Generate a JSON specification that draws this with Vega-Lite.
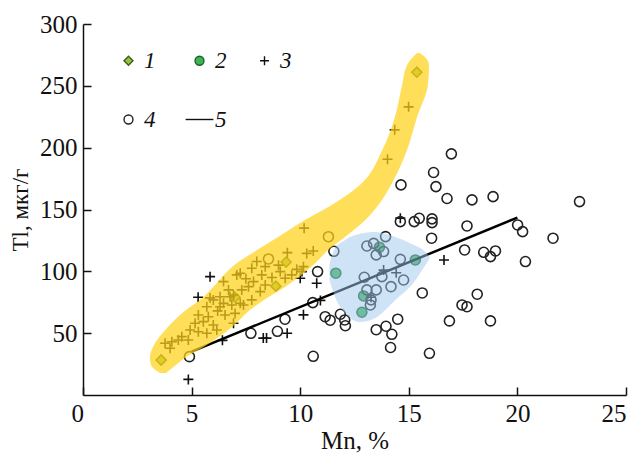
{
  "$schema": "https://vega.github.io/schema/vega-lite/v6.json",
  "width": 543,
  "height": 371,
  "autosize": {"type": "none"},
  "padding": {"left": 83, "top": 24, "right": 12, "bottom": 58},
  "background": "white",
  "config": {
    "view": {"stroke": null},
    "font": "Liberation Serif",
    "axis": {
      "domainColor": "#111",
      "domainWidth": 1.5,
      "tickColor": "#111",
      "tickWidth": 1.5,
      "tickSize": -8,
      "grid": false,
      "labelFont": "Liberation Serif",
      "labelFontSize": 25,
      "labelColor": "#111",
      "titleFont": "Liberation Serif",
      "titleFontSize": 25,
      "titleFontWeight": "normal",
      "titleColor": "#111"
    }
  },
  "datasets": {
    "pts": [
      {"Mn": 3.6, "Tl": 28.3, "s": "1"},
      {"Mn": 7.0, "Tl": 79, "s": "1"},
      {"Mn": 8.88, "Tl": 88, "s": "1"},
      {"Mn": 9.35, "Tl": 107.5, "s": "1"},
      {"Mn": 15.37, "Tl": 261, "s": "1"},

      {"Mn": 11.64, "Tl": 98.5, "s": "2"},
      {"Mn": 12.84, "Tl": 66.9, "s": "2"},
      {"Mn": 12.92, "Tl": 80.1, "s": "2"},
      {"Mn": 13.65, "Tl": 119.5, "s": "2"},
      {"Mn": 15.3, "Tl": 109.2, "s": "2"},

      {"Mn": 4.85, "Tl": 12.6, "s": "3"},
      {"Mn": 5.3, "Tl": 79, "s": "3"},
      {"Mn": 5.85, "Tl": 95.7, "s": "3"},
      {"Mn": 6.42, "Tl": 44.2, "s": "3"},
      {"Mn": 8.3, "Tl": 46, "s": "3"},
      {"Mn": 8.45, "Tl": 46, "s": "3"},
      {"Mn": 9.4, "Tl": 49.9, "s": "3"},
      {"Mn": 10.15, "Tl": 64.8, "s": "3"},
      {"Mn": 10.76, "Tl": 90.4, "s": "3"},
      {"Mn": 10.93, "Tl": 76.5, "s": "3"},
      {"Mn": 13.84, "Tl": 101, "s": "3"},
      {"Mn": 14.42, "Tl": 98.9, "s": "3"},
      {"Mn": 13.26, "Tl": 79, "s": "3"},
      {"Mn": 14.61, "Tl": 143, "s": "3"},
      {"Mn": 16.62, "Tl": 109.2, "s": "3"},
      {"Mn": 14.02, "Tl": 190.6, "s": "3"},
      {"Mn": 14.35, "Tl": 214.4, "s": "3"},
      {"Mn": 14.99, "Tl": 233, "s": "3"},
      {"Mn": 10.18, "Tl": 134.9, "s": "3"},
      {"Mn": 10.6, "Tl": 116.5, "s": "3"},
      {"Mn": 10.3, "Tl": 114.5, "s": "3"},
      {"Mn": 10.15, "Tl": 103.8, "s": "3"},
      {"Mn": 10.08, "Tl": 99.8, "s": "3"},
      {"Mn": 9.41, "Tl": 115.1, "s": "3"},
      {"Mn": 8.0, "Tl": 107.9, "s": "3"},
      {"Mn": 7.77, "Tl": 102.5, "s": "3"},
      {"Mn": 8.39, "Tl": 103.8, "s": "3"},
      {"Mn": 9.08, "Tl": 99.8, "s": "3"},
      {"Mn": 9.84, "Tl": 101.6, "s": "3"},
      {"Mn": 10.0, "Tl": 94.4, "s": "3"},
      {"Mn": 9.61, "Tl": 97.1, "s": "3"},
      {"Mn": 8.23, "Tl": 97.1, "s": "3"},
      {"Mn": 7.24, "Tl": 98.4, "s": "3"},
      {"Mn": 7.08, "Tl": 97.1, "s": "3"},
      {"Mn": 7.85, "Tl": 91.7, "s": "3"},
      {"Mn": 7.62, "Tl": 87.6, "s": "3"},
      {"Mn": 8.39, "Tl": 89, "s": "3"},
      {"Mn": 9.31, "Tl": 94.4, "s": "3"},
      {"Mn": 6.47, "Tl": 91.7, "s": "3"},
      {"Mn": 6.7, "Tl": 85, "s": "3"},
      {"Mn": 7.31, "Tl": 85, "s": "3"},
      {"Mn": 8.16, "Tl": 83.6, "s": "3"},
      {"Mn": 6.93, "Tl": 80.9, "s": "3"},
      {"Mn": 5.85, "Tl": 78.5, "s": "3"},
      {"Mn": 6.0, "Tl": 76.9, "s": "3"},
      {"Mn": 6.47, "Tl": 74.1, "s": "3"},
      {"Mn": 6.85, "Tl": 72.8, "s": "3"},
      {"Mn": 7.77, "Tl": 76.9, "s": "3"},
      {"Mn": 6.31, "Tl": 79.5, "s": "3"},
      {"Mn": 6.77, "Tl": 79.5, "s": "3"},
      {"Mn": 7.24, "Tl": 74.1, "s": "3"},
      {"Mn": 5.7, "Tl": 71.4, "s": "3"},
      {"Mn": 6.31, "Tl": 71.4, "s": "3"},
      {"Mn": 7.39, "Tl": 72.8, "s": "3"},
      {"Mn": 5.31, "Tl": 64.7, "s": "3"},
      {"Mn": 5.77, "Tl": 63.3, "s": "3"},
      {"Mn": 6.54, "Tl": 64.7, "s": "3"},
      {"Mn": 5.16, "Tl": 58, "s": "3"},
      {"Mn": 5.54, "Tl": 59.3, "s": "3"},
      {"Mn": 6.0, "Tl": 56.6, "s": "3"},
      {"Mn": 6.93, "Tl": 58, "s": "3"},
      {"Mn": 4.93, "Tl": 52.6, "s": "3"},
      {"Mn": 5.31, "Tl": 51.2, "s": "3"},
      {"Mn": 5.7, "Tl": 49.9, "s": "3"},
      {"Mn": 6.16, "Tl": 52.6, "s": "3"},
      {"Mn": 4.55, "Tl": 47.2, "s": "3"},
      {"Mn": 4.85, "Tl": 44.5, "s": "3"},
      {"Mn": 4.39, "Tl": 44.5, "s": "3"},
      {"Mn": 4.09, "Tl": 43.1, "s": "3"},
      {"Mn": 3.78, "Tl": 41.8, "s": "3"},
      {"Mn": 4.01, "Tl": 37.8, "s": "3"},
      {"Mn": 8.7, "Tl": 95, "s": "3"},
      {"Mn": 9.0, "Tl": 105, "s": "3"},
      {"Mn": 7.5, "Tl": 94, "s": "3"},
      {"Mn": 7.0, "Tl": 66, "s": "3"},
      {"Mn": 6.2, "Tl": 68, "s": "3"},

      {"Mn": 8.54, "Tl": 110, "s": "4"},
      {"Mn": 11.3, "Tl": 128, "s": "4"},
      {"Mn": 4.9, "Tl": 31, "s": "4"},
      {"Mn": 7.73, "Tl": 49.9, "s": "4"},
      {"Mn": 8.95, "Tl": 51.5, "s": "4"},
      {"Mn": 9.3, "Tl": 61.3, "s": "4"},
      {"Mn": 10.58, "Tl": 74.7, "s": "4"},
      {"Mn": 10.6, "Tl": 31.3, "s": "4"},
      {"Mn": 10.8, "Tl": 99.8, "s": "4"},
      {"Mn": 11.55, "Tl": 116.2, "s": "4"},
      {"Mn": 11.15, "Tl": 63.3, "s": "4"},
      {"Mn": 11.38, "Tl": 60.5, "s": "4"},
      {"Mn": 11.85, "Tl": 65.3, "s": "4"},
      {"Mn": 12.05, "Tl": 60.7, "s": "4"},
      {"Mn": 12.08, "Tl": 56, "s": "4"},
      {"Mn": 13.5, "Tl": 52.8, "s": "4"},
      {"Mn": 13.95, "Tl": 55.6, "s": "4"},
      {"Mn": 14.22, "Tl": 49.1, "s": "4"},
      {"Mn": 14.49, "Tl": 61.3, "s": "4"},
      {"Mn": 14.16, "Tl": 38.4, "s": "4"},
      {"Mn": 15.95, "Tl": 33.7, "s": "4"},
      {"Mn": 15.62, "Tl": 82.5, "s": "4"},
      {"Mn": 18.15, "Tl": 81.5, "s": "4"},
      {"Mn": 17.45, "Tl": 72.8, "s": "4"},
      {"Mn": 17.68, "Tl": 71.4, "s": "4"},
      {"Mn": 16.87, "Tl": 59.9, "s": "4"},
      {"Mn": 18.76, "Tl": 59.9, "s": "4"},
      {"Mn": 16.96, "Tl": 195, "s": "4"},
      {"Mn": 16.14, "Tl": 179.9, "s": "4"},
      {"Mn": 16.25, "Tl": 168.5, "s": "4"},
      {"Mn": 14.64, "Tl": 169.9, "s": "4"},
      {"Mn": 16.76, "Tl": 158.9, "s": "4"},
      {"Mn": 17.91, "Tl": 157.8, "s": "4"},
      {"Mn": 18.88, "Tl": 160.4, "s": "4"},
      {"Mn": 22.86, "Tl": 156.4, "s": "4"},
      {"Mn": 14.61, "Tl": 140.2, "s": "4"},
      {"Mn": 15.25, "Tl": 140.2, "s": "4"},
      {"Mn": 15.48, "Tl": 142.9, "s": "4"},
      {"Mn": 16.07, "Tl": 142.4, "s": "4"},
      {"Mn": 16.07, "Tl": 139.4, "s": "4"},
      {"Mn": 17.68, "Tl": 136.7, "s": "4"},
      {"Mn": 20.01, "Tl": 137.5, "s": "4"},
      {"Mn": 20.24, "Tl": 132.1, "s": "4"},
      {"Mn": 21.64, "Tl": 126.8, "s": "4"},
      {"Mn": 16.05, "Tl": 126.8, "s": "4"},
      {"Mn": 13.93, "Tl": 128.1, "s": "4"},
      {"Mn": 17.57, "Tl": 117.3, "s": "4"},
      {"Mn": 18.45, "Tl": 115.4, "s": "4"},
      {"Mn": 18.99, "Tl": 116.5, "s": "4"},
      {"Mn": 18.76, "Tl": 111.9, "s": "4"},
      {"Mn": 20.37, "Tl": 107.9, "s": "4"},
      {"Mn": 13.07, "Tl": 120.5, "s": "4"},
      {"Mn": 13.38, "Tl": 122.6, "s": "4"},
      {"Mn": 13.5, "Tl": 113.3, "s": "4"},
      {"Mn": 13.84, "Tl": 116, "s": "4"},
      {"Mn": 14.61, "Tl": 109.7, "s": "4"},
      {"Mn": 12.95, "Tl": 95.2, "s": "4"},
      {"Mn": 13.76, "Tl": 95.7, "s": "4"},
      {"Mn": 14.76, "Tl": 93, "s": "4"},
      {"Mn": 14.18, "Tl": 87.6, "s": "4"},
      {"Mn": 13.07, "Tl": 85, "s": "4"},
      {"Mn": 13.5, "Tl": 85, "s": "4"},
      {"Mn": 13.26, "Tl": 76.9, "s": "4"},
      {"Mn": 13.23, "Tl": 72.8, "s": "4"}
    ],
    "trend": [
      {"Mn": 5, "Tl": 35},
      {"Mn": 20, "Tl": 143.5}
    ],
    "band": [
      {"Tl": 17.8, "left": 3.55, "right": 3.82},
      {"Tl": 24.3, "left": 3.13, "right": 4.28},
      {"Tl": 30.7, "left": 3.08, "right": 4.75},
      {"Tl": 38.8, "left": 3.22, "right": 5.55},
      {"Tl": 55.0, "left": 3.91, "right": 6.86},
      {"Tl": 68.7, "left": 4.74, "right": 7.69},
      {"Tl": 76.8, "left": 5.39, "right": 8.33},
      {"Tl": 87.3, "left": 5.99, "right": 9.3},
      {"Tl": 106.7, "left": 7.09, "right": 10.7},
      {"Tl": 117.2, "left": 8.01, "right": 11.28},
      {"Tl": 127.8, "left": 8.98, "right": 12.06},
      {"Tl": 141.5, "left": 10.22, "right": 13.0},
      {"Tl": 153.6, "left": 11.45, "right": 13.6},
      {"Tl": 169.8, "left": 12.75, "right": 14.18},
      {"Tl": 198.1, "left": 13.78, "right": 14.92},
      {"Tl": 224.8, "left": 14.36, "right": 15.38},
      {"Tl": 250.7, "left": 14.69, "right": 15.88},
      {"Tl": 266.8, "left": 14.92, "right": 15.93},
      {"Tl": 272.5, "left": 15.15, "right": 15.79},
      {"Tl": 276.5, "left": 15.38, "right": 15.5}
    ],
    "blue": [
      {"Mn": 11.35, "top": 106, "bot": 93},
      {"Mn": 11.57, "top": 117.3, "bot": 80.9},
      {"Mn": 12.07, "top": 125.4, "bot": 66.3},
      {"Mn": 12.76, "top": 130.3, "bot": 59},
      {"Mn": 13.46, "top": 131.9, "bot": 62.3},
      {"Mn": 14.38, "top": 127.8, "bot": 76.9},
      {"Mn": 15.21, "top": 121.4, "bot": 90.6},
      {"Mn": 15.76, "top": 115.7, "bot": 105},
      {"Mn": 15.95, "top": 112, "bot": 110}
    ]
  },
  "layer": [
    {
      "data": {"name": "pts"},
      "mark": {"type": "point", "filled": true, "opacity": 1, "strokeWidth": 1.6, "size": 100},
      "encoding": {
        "x": {
          "field": "Mn", "type": "quantitative",
          "scale": {"domain": [0, 25], "nice": false, "zero": false},
          "axis": {
            "values": [0, 5, 10, 15, 20, 25],
            "title": "Mn, %",
            "labelPadding": 14,
            "titlePadding": 2,
            "labelOffset": {"condition": {"test": "datum.value === 0", "value": -12}, "value": 0}
          }
        },
        "y": {
          "field": "Tl", "type": "quantitative",
          "scale": {"domain": [0, 300], "nice": false},
          "axis": {
            "values": [50, 100, 150, 200, 250, 300],
            "title": "Tl, мкг/г",
            "titleFontSize": 23,
            "labelPadding": 14,
            "titlePadding": 7
          }
        },
        "shape": {
          "field": "s", "type": "nominal",
          "scale": {"domain": ["1", "2", "3", "4", "5"], "range": ["diamond", "circle", "M-1,0L1,0M0,-1L0,1", "circle", "M-3.1,0L3.1,0"]},
          "legend": {
            "title": null,
            "orient": "none",
            "legendX": 34,
            "legendY": 25,
            "direction": "horizontal",
            "columns": 3,
            "columnPadding": 26,
            "rowPadding": 35,
            "labelFont": "Liberation Serif",
            "labelFontStyle": "italic",
            "labelFontSize": 23,
            "labelColor": "#111",
            "labelOffset": 4,
            "symbolSize": 80,
            "symbolStrokeWidth": 1.4,
            "symbolOpacity": 1,
            "encode": {
              "symbols": {"update": {"strokeWidth": {"signal": "datum.value === '5' ? 2.4 : 1.4"}}}
            }
          }
        },
        "fill": {
          "field": "s", "type": "nominal",
          "scale": {"domain": ["1", "2", "3", "4", "5"], "range": ["#8dc63f", "#3db356", "transparent", "transparent", "transparent"]},
          "legend": {"title": null}
        },
        "stroke": {
          "field": "s", "type": "nominal",
          "scale": {"domain": ["1", "2", "3", "4", "5"], "range": ["#4a5a1c", "#1f5f2e", "#111111", "#222222", "#111111"]},
          "legend": {"title": null}
        }
      }
    },
    {
      "data": {"name": "trend"},
      "mark": {"type": "line", "color": "#000", "strokeWidth": 2.5},
      "encoding": {
        "x": {"field": "Mn", "type": "quantitative"},
        "y": {"field": "Tl", "type": "quantitative"}
      }
    },
    {
      "data": {"name": "blue"},
      "mark": {"type": "area", "color": "#9dc8ec", "opacity": 0.5, "interpolate": "monotone"},
      "encoding": {
        "x": {"field": "Mn", "type": "quantitative"},
        "y": {"field": "top", "type": "quantitative"},
        "y2": {"field": "bot"}
      }
    },
    {
      "data": {"name": "band"},
      "mark": {"type": "area", "orient": "horizontal", "color": "#ffd21a", "opacity": 0.72, "interpolate": "monotone"},
      "encoding": {
        "y": {"field": "Tl", "type": "quantitative"},
        "x": {"field": "left", "type": "quantitative"},
        "x2": {"field": "right"}
      }
    }
  ]
}
